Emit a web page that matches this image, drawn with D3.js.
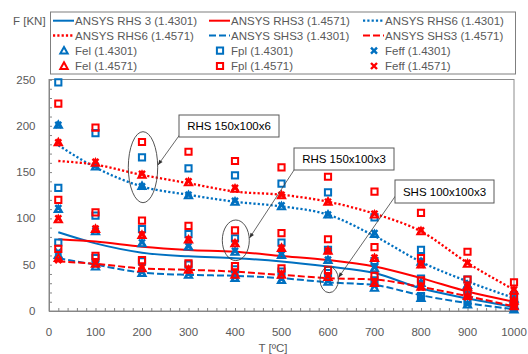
<!DOCTYPE html>
<html>
<head>
<meta charset="utf-8">
<script src="https://cdn.jsdelivr.net/npm/d3@7"></script>
<style>
  body { margin: 0; background: #fff; }
  text { font-family: "Liberation Sans", Arial, sans-serif; }
</style>
</head>
<body>
<svg id="chart" width="528" height="354"></svg>
<script>
// Temperatures [ºC]
const temps = [20, 100, 200, 300, 400, 500, 600, 700, 800, 900, 1000];

// ANSYS curves [kN]
const ansysRHS3_4301 = [85, 73, 63, 59, 57, 53.5, 48, 41, 24.5, 13.5, 4.5];
const ansysRHS3_4571 = [77.5, 75, 69.5, 66, 64, 59.5, 55, 48, 35.5, 21, 10];
const ansysRHS6_4301 = [179, 155, 134.5, 125.5, 118, 113, 104, 81, 53, 32, 14];
const ansysRHS6_4571 = [162, 158, 147, 138, 129, 125.5, 118, 105, 86, 52, 23];
const ansysSHS3_4301 = [57, 50, 41.5, 39, 38, 35.5, 31, 28, 17, 8.5, 2];
const ansysSHS3_4571 = [53.5, 51, 46, 44.5, 42.5, 39, 35.5, 34, 26, 16, 5];

// Design resistances, one array per section [kN]
const felRHS6_4301  = [201, 156, 135, 125, 118, 113, 104, 83, 53, 28, 13];
const fplRHS6_4301  = [247, 192, 166, 154, 146.5, 137.5, 128, 101, 66, 34, 17];
const feffRHS6_4301 = [201, 157, 134.5, 125.5, 119, 114, 104, 84, 54, 29, 14];
const felRHS6_4571  = [182, 160, 147, 139, 132, 125, 118, 104, 86, 51, 22];
const fplRHS6_4571  = [224, 198, 182.5, 172, 162, 155, 145, 129, 106, 64, 31];
const feffRHS6_4571 = [182, 161, 148, 140, 133, 125.5, 118, 105, 87, 52, 23];

const felRHS3_4301  = [110, 86, 73, 69.5, 64, 60.5, 55, 46, 30, 17, 6];
const fplRHS3_4301  = [133, 103, 88.5, 83, 78.5, 74, 66, 54, 35, 22, 9];
const feffRHS3_4301 = [111, 87, 74, 70, 65, 61, 55.5, 47, 30.5, 17.5, 6.5];
const felRHS3_4571  = [99, 88.5, 82, 77, 73, 68, 65, 57, 50, 26, 11];
const fplRHS3_4571  = [120, 106.5, 97.5, 92, 87, 84, 77.5, 69, 57, 34, 15];
const feffRHS3_4571 = [100, 89, 82.5, 77, 73.5, 68, 65, 57.5, 50, 26, 11];

const felSHS3_4301  = [60.5, 48, 41, 39, 35.5, 33.5, 31.5, 25, 14, 7, 1.5];
const fplSHS3_4301  = [74, 57, 53.5, 50, 45, 42.5, 41, 33, 16, 10, 3];
const feffSHS3_4301 = [64, 50, 42, 40, 36.5, 34.5, 32.5, 27, 14.5, 7.5, 2];
const felSHS3_4571  = [57, 51, 46, 44.5, 39, 39, 36.5, 30, 26, 16, 5];
const fplSHS3_4571  = [67, 59.5, 55, 51.5, 48.5, 46, 44.5, 38, 33, 20, 9];
const feffSHS3_4571 = [55, 52, 47, 45, 42, 40, 37.5, 31, 25.5, 15, 5];

// Axis ticks
const xTicks = [0, 100, 200, 300, 400, 500, 600, 700, 800, 900, 1000];
const yTicks = [0, 50, 100, 150, 200, 250];

const blue = "#0070C0";
const red = "#FF0000";
const grey = "#595959";

const svg = d3.select("#chart");

const x = d3.scaleLinear().domain([0, 1000]).range([49, 514]);
const y = d3.scaleLinear().domain([0, 250]).range([311, 79.5]);

// line series
const lineSeries = [
  { name: "ANSYS RHS 3 (1.4301)", values: ansysRHS3_4301, color: blue, dash: null },
  { name: "ANSYS RHS3 (1.4571)", values: ansysRHS3_4571, color: red, dash: null },
  { name: "ANSYS RHS6 (1.4301)", values: ansysRHS6_4301, color: blue, dash: "dot" },
  { name: "ANSYS RHS6 (1.4571)", values: ansysRHS6_4571, color: red, dash: "dot" },
  { name: "ANSYS SHS3 (1.4301)", values: ansysSHS3_4301, color: blue, dash: "dash" },
  { name: "ANSYS SHS3 (1.4571)", values: ansysSHS3_4571, color: red, dash: "dash" }
];

// marker series (all three sections together)
const markerSeries = [
  { name: "Fel (1.4301)", shape: "tri", color: blue, groups: [felRHS6_4301, felRHS3_4301, felSHS3_4301] },
  { name: "Fpl (1.4301)", shape: "sq", color: blue, groups: [fplRHS6_4301, fplRHS3_4301, fplSHS3_4301] },
  { name: "Feff (1.4301)", shape: "x", color: blue, groups: [feffRHS6_4301, feffRHS3_4301, feffSHS3_4301] },
  { name: "Fel (1.4571)", shape: "tri", color: red, groups: [felRHS6_4571, felRHS3_4571, felSHS3_4571] },
  { name: "Fpl (1.4571)", shape: "sq", color: red, groups: [fplRHS6_4571, fplRHS3_4571, fplSHS3_4571] },
  { name: "Feff (1.4571)", shape: "x", color: red, groups: [feffRHS6_4571, feffRHS3_4571, feffSHS3_4571] }
];

const dashArray = d => d === "dot" ? "2.2,2.1" : d === "dash" ? "7,3" : null;

const shapePath = {
  tri: "M0,-3.7L3.7,2.9L-3.7,2.9Z",
  sq: "M-3.1,-3.1H3.1V3.1H-3.1Z",
  x: "M-3,-3L3,3M3,-3L-3,3"
};

function drawMarker(g, shape, color, cx, cy) {
  g.append("path")
    .attr("d", shapePath[shape])
    .attr("transform", `translate(${cx},${cy})`)
    .attr("fill", "none")
    .attr("stroke", color)
    .attr("stroke-width", shape === "x" ? 2.4 : 2)
    .attr("stroke-linejoin", "miter");
}

// plot area border
svg.append("rect")
  .attr("x", x(0)).attr("y", y(250))
  .attr("width", x(1000) - x(0)).attr("height", y(0) - y(250))
  .attr("fill", "none").attr("stroke", "#8c8c8c").attr("stroke-width", 1);

// axes
const xAxis = d3.axisBottom(x).tickValues(d3.range(0, 1001, 20)).tickSize(-3).tickFormat("");
svg.append("g").attr("transform", `translate(0,${y(0)})`).call(xAxis)
  .call(g => g.selectAll("line, path").attr("stroke", "#868686"));

const yAxis = d3.axisLeft(y).tickValues(d3.range(0, 251, 10)).tickSize(-3).tickFormat("");
svg.append("g").attr("transform", `translate(${x(0)},0)`).call(yAxis)
  .call(g => g.selectAll("line, path").attr("stroke", "#868686"));

svg.append("g").selectAll("text").data(xTicks).join("text")
  .attr("x", d => x(d)).attr("y", 336)
  .attr("text-anchor", "middle").attr("font-size", 11.5).attr("fill", grey)
  .text(d => d);

svg.append("g").selectAll("text").data(yTicks).join("text")
  .attr("x", 35.5).attr("y", d => y(d) + 4)
  .attr("text-anchor", "end").attr("font-size", 11.5).attr("fill", grey)
  .text(d => d);

svg.append("text").attr("x", 273).attr("y", 352)
  .attr("text-anchor", "middle").attr("font-size", 11.5).attr("fill", grey)
  .text("T [ºC]");

svg.append("text").attr("x", 13).attr("y", 25)
  .attr("font-size", 11.5).attr("fill", grey)
  .text("F [KN]");

// ANSYS lines
const line = d3.line()
  .x((d, i) => x(temps[i]))
  .y(d => y(d))
  .curve(d3.curveMonotoneX);

lineSeries.forEach(s => {
  svg.append("path")
    .datum(s.values)
    .attr("d", line)
    .attr("fill", "none")
    .attr("stroke", s.color)
    .attr("stroke-width", s.dash === "dot" ? 2.3 : 2)
    .attr("stroke-dasharray", dashArray(s.dash));
});

// markers
const markG = svg.append("g");
markerSeries.forEach(s => {
  s.groups.forEach(vals => {
    vals.forEach((v, i) => drawMarker(markG, s.shape, s.color, x(temps[i]), y(v)));
  });
});

// annotations
const annG = svg.append("g");
const notes = [
  { text: "RHS 150x100x6", box: [179, 115, 100, 22], ell: [143, 167.2, 14.7, 35.5], from: [186, 126], to: [158, 165] },
  { text: "RHS 150x100x3", box: [294, 148, 100, 22], ell: [235.8, 240.3, 13.5, 20.3], from: [298, 164], to: [249.5, 238] },
  { text: "SHS 100x100x3", box: [395, 180, 99, 23], ell: [329.2, 279.7, 9.2, 13], from: [401, 188], to: [338.5, 277.5] }
];
notes.forEach(n => {
  annG.append("ellipse")
    .attr("cx", n.ell[0]).attr("cy", n.ell[1]).attr("rx", n.ell[2]).attr("ry", n.ell[3])
    .attr("fill", "none").attr("stroke", "#404040").attr("stroke-width", 0.9);
  annG.append("line")
    .attr("x1", n.from[0]).attr("y1", n.from[1]).attr("x2", n.to[0]).attr("y2", n.to[1])
    .attr("stroke", "#404040").attr("stroke-width", 0.8);
  const ang = Math.atan2(n.to[1] - n.from[1], n.to[0] - n.from[0]);
  const L = 5, W = 2;
  const bx = n.to[0] - L * Math.cos(ang), by = n.to[1] - L * Math.sin(ang);
  annG.append("path")
    .attr("d", `M${n.to[0]},${n.to[1]}L${bx - W * Math.sin(ang)},${by + W * Math.cos(ang)}L${bx + W * Math.sin(ang)},${by - W * Math.cos(ang)}Z`)
    .attr("fill", "#303030");
  annG.append("rect")
    .attr("x", n.box[0]).attr("y", n.box[1]).attr("width", n.box[2]).attr("height", n.box[3])
    .attr("fill", "#fff").attr("stroke", "#595959").attr("stroke-width", 1);
  annG.append("text")
    .attr("x", n.box[0] + n.box[2] / 2).attr("y", n.box[1] + n.box[3] / 2 + 4)
    .attr("text-anchor", "middle").attr("font-size", 11.5).attr("fill", "#000")
    .text(n.text);
});

// legend
const leg = svg.append("g");
leg.append("rect")
  .attr("x", 50.5).attr("y", 12).attr("width", 465).attr("height", 62)
  .attr("fill", "#fff").attr("stroke", "#7f7f7f").attr("stroke-width", 1);

const colX = [53, 209, 363];
const rowY = [20.7, 35.5, 50.7, 66];

lineSeries.forEach((s, i) => {
  const cx = colX[i % 3], cy = rowY[Math.floor(i / 3)];
  leg.append("line")
    .attr("x1", cx).attr("x2", cx + 21).attr("y1", cy).attr("y2", cy)
    .attr("stroke", s.color).attr("stroke-width", s.dash === "dot" ? 2.3 : 2)
    .attr("stroke-dasharray", dashArray(s.dash));
  leg.append("text")
    .attr("x", cx + 22).attr("y", cy + 4)
    .attr("font-size", 11.5).attr("fill", grey)
    .text(s.name);
});

markerSeries.forEach((s, i) => {
  const cx = colX[i % 3], cy = rowY[2 + Math.floor(i / 3)];
  drawMarker(leg, s.shape, s.color, cx + 11, cy);
  leg.append("text")
    .attr("x", cx + 22).attr("y", cy + 4)
    .attr("font-size", 11.5).attr("fill", grey)
    .text(s.name);
});
</script>
</body>
</html>
